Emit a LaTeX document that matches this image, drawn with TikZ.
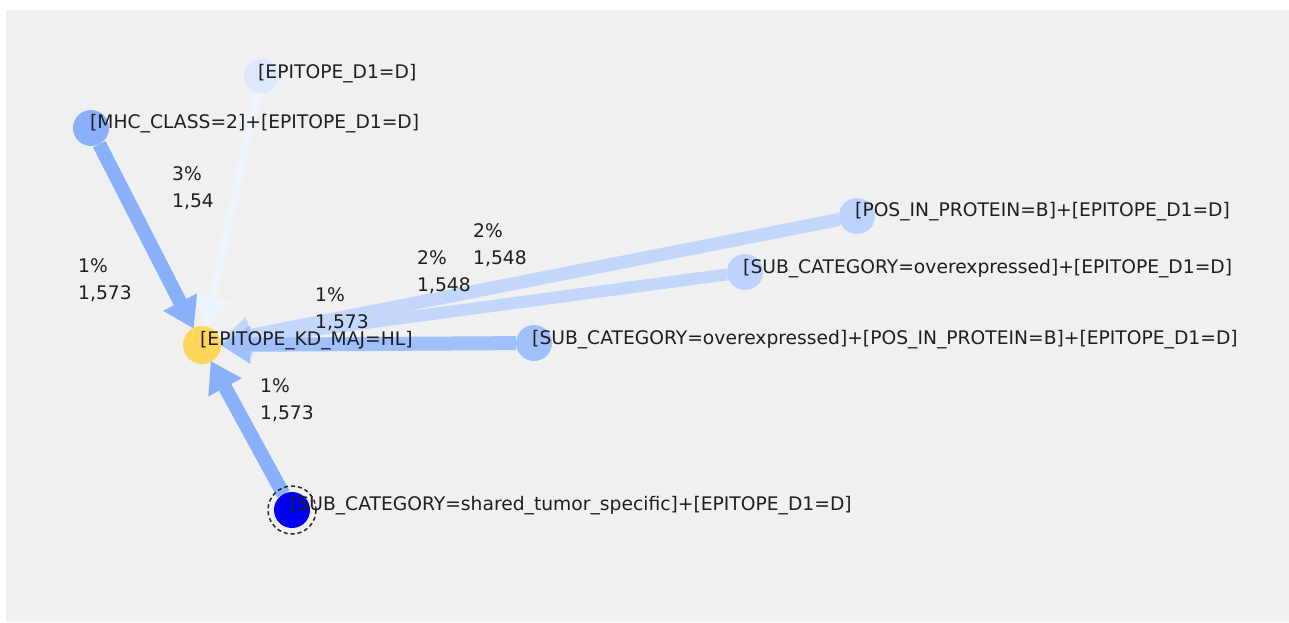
\documentclass[tikz,border=0pt]{standalone}
\usepackage{fontspec}
\setmainfont{DejaVu Sans}
\usetikzlibrary{arrows.meta}
\definecolor{bgc}{HTML}{F0F0F0}
\definecolor{cmhc}{HTML}{8AB0FB}
\definecolor{cthird}{HTML}{A0C0FC}
\definecolor{cpos}{HTML}{BDD3FD}
\definecolor{cposedge}{HTML}{C3D7FD}
\definecolor{cepi}{HTML}{DDE8FD}
\definecolor{cepiedge}{HTML}{EEF4FE}
\definecolor{cyel}{HTML}{FFD65A}
\definecolor{cblue}{HTML}{0000F0}
\tikzset{
  vtx/.style={circle, inner sep=0pt, minimum size=36pt, draw=none},
  lbl/.style={anchor=base west, inner sep=0pt, font=\fontsize{18.7}{27}\selectfont, text=black!88},
  elbl/.style={anchor=base west, inner sep=0pt, align=left, font=\fontsize{18.7}{27}\selectfont, text=black!88},
  edge/.style={-{Triangle[length=30pt,width=36pt]}},
}
\begin{document}
\begin{tikzpicture}[x=1pt,y=-1pt]
\useasboundingbox (0,0) rectangle (1289,622);
\fill[white] (0,0) rectangle (1289,622);
\fill[bgc] (6,10) rectangle (1289,622);
% vertex positions
\coordinate (pepi) at (261,76);
\coordinate (pmhc) at (91,128);
\coordinate (phl) at (202,345);
\coordinate (ppos) at (857,216);
\coordinate (psub) at (745,272);
\coordinate (pthird) at (534,343);
\coordinate (pshared) at (292,510);
% invisible targets for edge clipping
\node[vtx] (hl) at (phl) {};
\node[vtx] (epi) at (pepi) {};
\node[vtx] (mhc) at (pmhc) {};
\node[vtx] (pos) at (ppos) {};
\node[vtx] (sub) at (psub) {};
\node[vtx] (third) at (pthird) {};
\node[vtx] (shared) at (pshared) {};
% edges
\draw[edge, line width=8pt, cepiedge] (epi) -- (hl);
\draw[edge, line width=13pt, cposedge] (pos) -- (hl);
\draw[edge, line width=12pt, cposedge] (sub) -- (hl);
\draw[edge, line width=14pt, cthird] (third) -- (hl);
\draw[edge, line width=14pt, cmhc] (mhc) -- (hl);
\draw[edge, line width=14pt, cmhc] (shared) -- (hl);
% vertices
\fill[cepi] (pepi) circle (17);
\fill[cmhc] (pmhc) circle (18);
\fill[cpos] (ppos) circle (18);
\fill[cpos] (psub) circle (18);
\fill[cthird] (pthird) circle (18);
\fill[cyel] (phl) circle (19);
\fill[cblue] (pshared) circle (18);
\draw[black!85, line width=1.5pt, dash pattern=on 4pt off 3pt] (pshared) circle (24);
% vertex labels
\node[lbl] (tepi) at (258,78) {[EPITOPE\_D1=D]};
\node[lbl] (tmhc) at (90,128) {[MHC\_CLASS=2]+[EPITOPE\_D1=D]};
\node[lbl] (tpos) at (855,216) {[POS\_IN\_PROTEIN=B]+[EPITOPE\_D1=D]};
\node[lbl] (tsub) at (743,273) {[SUB\_CATEGORY=overexpressed]+[EPITOPE\_D1=D]};
\node[lbl] (tthird) at (532,344) {[SUB\_CATEGORY=overexpressed]+[POS\_IN\_PROTEIN=B]+[EPITOPE\_D1=D]};
\node[lbl] (thl) at (200,345) {[EPITOPE\_KD\_MAJ=HL]};
\node[lbl] (tshared) at (290,510) {[SUB\_CATEGORY=shared\_tumor\_specific]+[EPITOPE\_D1=D]};
% edge labels (base anchor = baseline of last line)
\node[elbl] (eepi) at (172,207) {3\%\\1,54};
\node[elbl] (emhc) at (78,299) {1\%\\1,573};
\node[elbl] (epos) at (473,264) {2\%\\1,548};
\node[elbl] (esub) at (417,291) {2\%\\1,548};
\node[elbl] (ethird) at (315,328) {1\%\\1,573};
\node[elbl] (eshared) at (260,419) {1\%\\1,573};
\end{tikzpicture}
\end{document}
